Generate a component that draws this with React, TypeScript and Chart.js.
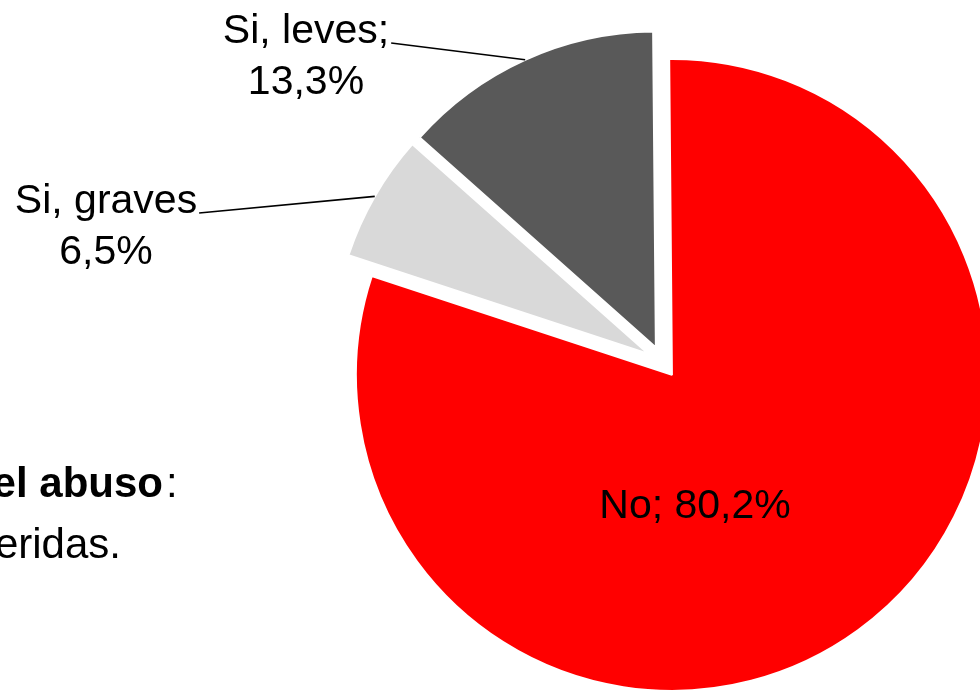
import React, { useEffect, useRef } from 'react';
import { Chart, ArcElement, PieController, registerables } from 'chart.js';

Chart.register(...registerables);

// ---- data ----
const categories = ['No', 'Si, graves', 'Si, leves'];
const values = [80.2, 6.5, 13.3];
const colors = ['#FF0000', '#D9D9D9', '#595959'];
const explodeAmounts = [16, 16, 16];
const labelLines = [['No; 80,2%'], ['Si, graves', '6,5%'], ['Si, leves;', '13,3%']];
const sideTextBold = 'el abuso';
const sideTextColon = ':';
const sideTextLine2 = 'eridas.';

// label placement (layout only)
const labelAnchors = [
  { cx: 695, baseline: 518, leader: false },
  { cx: 106, baseline: 213, leader: true },
  { cx: 306, baseline: 43, leader: true },
];

class ExplodedArc extends ArcElement {
  static id = 'explodedArc';
  static defaults = { explode: 0 };
  draw(ctx: CanvasRenderingContext2D) {
    const ex = (this as any).options.explode || 0;
    const half = ((this as any).startAngle + (this as any).endAngle) / 2;
    ctx.save();
    ctx.translate(Math.cos(half) * ex, Math.sin(half) * ex);
    super.draw(ctx);
    ctx.restore();
  }
}

class ExplodedPie extends PieController {
  static id = 'explodedPie';
  static defaults = { dataElementType: 'explodedArc' };
}

Chart.register(ExplodedArc as any, ExplodedPie as any);

const FONT = '"Liberation Sans", Arial, sans-serif';

const labelPlugin = {
  id: 'pieLabels',
  afterDatasetsDraw(chart: any) {
    const ctx: CanvasRenderingContext2D = chart.ctx;
    const meta = chart.getDatasetMeta(0);
    ctx.save();
    ctx.fillStyle = '#000000';
    ctx.strokeStyle = '#000000';
    ctx.textBaseline = 'alphabetic';
    ctx.font = `41px ${FONT}`;
    meta.data.forEach((arc: any, i: number) => {
      const a = labelAnchors[i];
      const lines = labelLines[i];
      ctx.textAlign = 'center';
      lines.forEach((t, k) => {
        ctx.fillText(t, a.cx, a.baseline + k * 51);
      });
      if (a.leader) {
        const w = ctx.measureText(lines[0]).width;
        const half = (arc.startAngle + arc.endAngle) / 2;
        const ex = arc.options.explode || 0;
        const r = arc.outerRadius + ex;
        const ex2 = arc.x + Math.cos(half) * r;
        const ey2 = arc.y + Math.sin(half) * r;
        ctx.beginPath();
        ctx.lineWidth = 1.6;
        ctx.moveTo(a.cx + w / 2 + 2, a.baseline);
        ctx.lineTo(ex2, ey2);
        ctx.stroke();
      }
    });
    // side text (partially cut off at the left edge)
    ctx.textAlign = 'right';
    ctx.font = `bold 42px ${FONT}`;
    ctx.fillText(sideTextBold, 163, 497);
    ctx.textAlign = 'left';
    ctx.font = `42px ${FONT}`;
    ctx.fillText(sideTextColon, 166, 497);
    ctx.textAlign = 'right';
    ctx.fillText(sideTextLine2, 121, 558);
    ctx.restore();
  },
};

export default function App() {
  const ref = useRef<HTMLCanvasElement | null>(null);
  useEffect(() => {
    if (!ref.current) return;
    const chart = new Chart(ref.current, {
      type: 'explodedPie' as any,
      data: {
        labels: categories,
        datasets: [
          {
            data: values,
            backgroundColor: colors,
            borderColor: '#FFFFFF',
            borderWidth: 2,
            explode: explodeAmounts,
            clip: false,
          } as any,
        ],
      },
      options: {
        animation: false,
        responsive: false,
        maintainAspectRatio: false,
        devicePixelRatio: 1,
        rotation: -0.5,
        radius: 316,
        layout: { padding: { left: 345, right: 0, top: 33, bottom: 0 } },
        plugins: {
          legend: { display: false },
          tooltip: { enabled: false },
        },
      } as any,
      plugins: [labelPlugin],
    });
    return () => chart.destroy();
  }, []);
  return (
    <div style={{ position: 'absolute', left: 0, top: 0, width: 980, height: 691, background: '#fff', overflow: 'hidden' }}>
      <canvas ref={ref} width={980} height={691} style={{ display: 'block' }} />
    </div>
  );
}
